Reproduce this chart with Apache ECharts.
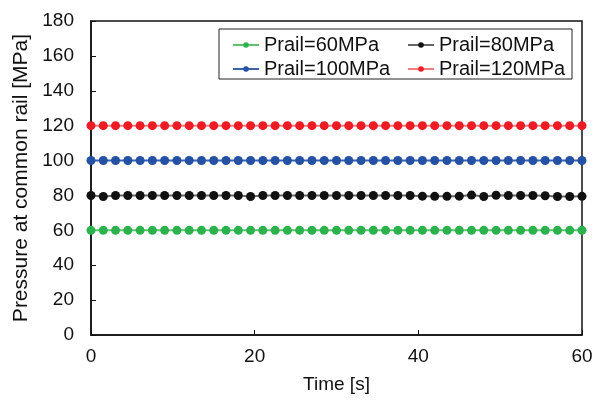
<!DOCTYPE html>
<html>
<head>
<meta charset="utf-8">
<script src="https://cdn.jsdelivr.net/npm/echarts@6/dist/echarts.min.js"></script>
<style>
html,body{margin:0;padding:0;background:#fff;}
#main{width:606px;height:401px;}
</style>
</head>
<body>
<div id="main"></div>
<script>
// sample times [s]
var times = [0, 1.5, 3, 4.5, 6, 7.5, 9, 10.5, 12, 13.5, 15, 16.5, 18, 19.5, 21, 22.5, 24, 25.5, 27, 28.5,
  30, 31.5, 33, 34.5, 36, 37.5, 39, 40.5, 42, 43.5, 45, 46.5, 48, 49.5, 51, 52.5, 54, 55.5, 57, 58.5, 60];

// pressure readings [MPa]
var p60 = [60, 60, 60, 60, 60, 60, 60, 60, 60, 60, 60, 60, 60, 60, 60, 60, 60, 60, 60, 60,
  60, 60, 60, 60, 60, 60, 60, 60, 60, 60, 60, 60, 60, 60, 60, 60, 60, 60, 60, 60, 60];
var p80 = [80, 79.4, 80, 80, 80, 80, 80, 80, 80, 80, 80, 80, 80, 79.4, 80, 80, 80, 80, 80, 80,
  80, 80, 80, 80, 80, 80, 80, 79.6, 79.5, 79.5, 79.6, 80.2, 79.4, 80.1, 80, 80, 80, 79.8, 79.4, 79.4, 79.5];
var p100 = [100, 100, 100, 100, 100, 100, 100, 100, 100, 100, 100, 100, 100, 100, 100, 100, 100, 100, 100, 100,
  100, 100, 100, 100, 100, 100, 100, 100, 100, 100, 100, 100, 100, 100, 100, 100, 100, 100, 100, 100, 100];
var p120 = [120, 120, 120, 120, 120, 120, 120, 120, 120, 120, 120, 120, 120, 120, 120, 120, 120, 120, 120, 120,
  120, 120, 120, 120, 120, 120, 120, 120, 120, 120, 120, 120, 120, 120, 120, 120, 120, 120, 120, 120, 120];

var names = ['Prail=60MPa', 'Prail=80MPa', 'Prail=100MPa', 'Prail=120MPa'];
var dotColors = ['#2bb24c', '#111111', '#2451a4', '#ed1c24'];
var lineColors = ['#5cc46f', '#6b6666', '#3a62b0', '#f27a80'];

function pairs(vals)
{
	var out = [];
	for (var i = 0; i < times.length; i++) out.push([times[i], vals[i]]);
	return out;
}

var font = 'Liberation Sans, Arial, sans-serif';
var allVals = [p60, p80, p100, p120];
var series = [];
for (var k = 0; k < 4; k++)
{
	series.push({
		name: names[k],
		type: 'line',
		data: pairs(allVals[k]),
		symbol: 'circle',
		symbolSize: 9,
		itemStyle: {color: dotColors[k]},
		lineStyle: {color: lineColors[k], width: 2},
		animation: false
	});
}

var legendText = {fontFamily: font, fontSize: 20, color: '#111'};

var option = {
	animation: false,
	grid: {left: 91, right: 24, top: 21, bottom: 66, show: true, borderColor: '#111', borderWidth: 1.5, backgroundColor: '#fff'},
	xAxis: {
		type: 'value', min: 0, max: 60, interval: 20,
		name: 'Time [s]', nameLocation: 'middle', nameGap: 40,
		nameTextStyle: {fontFamily: font, fontSize: 19, color: '#111'},
		axisLine: {lineStyle: {color: '#111', width: 1.5}},
		axisTick: {inside: true, length: 5, lineStyle: {color: '#111'}},
		axisLabel: {fontFamily: font, fontSize: 19, color: '#111', margin: 12},
		splitLine: {show: false}
	},
	yAxis: {
		type: 'value', min: 0, max: 180, interval: 20,
		name: 'Pressure at common rail [MPa]', nameLocation: 'middle', nameGap: 56,
		nameTextStyle: {fontFamily: font, fontSize: 21, color: '#111'},
		axisLine: {show: true, lineStyle: {color: '#111', width: 1.5}},
		axisTick: {show: true, inside: true, length: 5, lineStyle: {color: '#111'}},
		axisLabel: {fontFamily: font, fontSize: 19, color: '#111', margin: 17},
		splitLine: {show: false}
	},
	legend: [
		{
			data: [names[0], names[2]], orient: 'vertical', left: 227, top: 30,
			itemWidth: 26, itemHeight: 7, itemGap: 4, textStyle: legendText
		},
		{
			data: [names[1], names[3]], orient: 'vertical', left: 402, top: 30,
			itemWidth: 26, itemHeight: 7, itemGap: 4, textStyle: legendText
		}
	],
	graphic: [
		{
			type: 'rect', z: 100, silent: true,
			shape: {x: 219, y: 29, width: 353, height: 50},
			style: {fill: 'none', stroke: '#222', lineWidth: 1}
		}
	],
	series: series
};

echarts.init(document.getElementById('main')).setOption(option);
</script>
</body>
</html>
